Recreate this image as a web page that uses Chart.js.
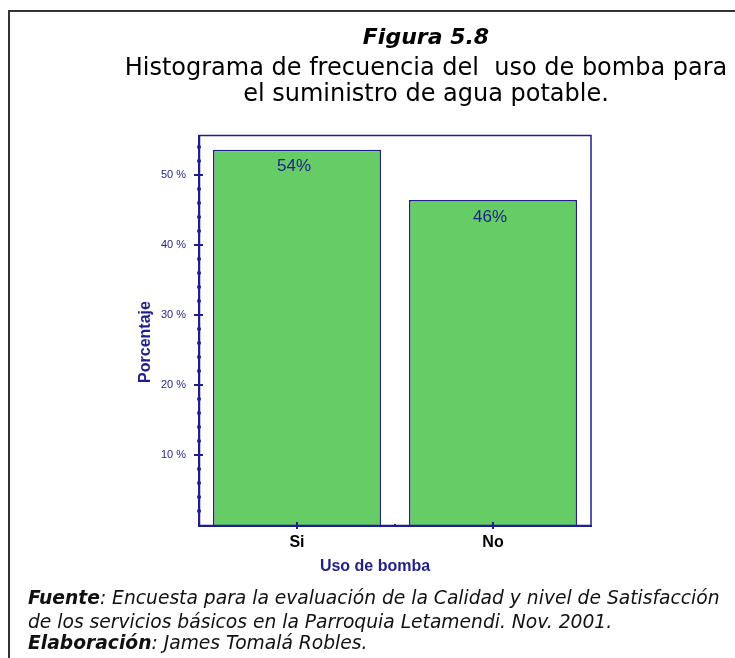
<!DOCTYPE html>
<html>
<head>
<meta charset="utf-8">
<script src="https://cdn.jsdelivr.net/npm/chart.js@4.4.1/dist/chart.umd.min.js"></script>
<style>
  html, body { margin: 0; padding: 0; background: #fff; }
  body { width: 735px; height: 658px; position: relative; overflow: hidden; }
  #frame { position: absolute; left: 8px; top: 10px; width: 800px; height: 700px; border-top: 2px solid #333; border-left: 2px solid #333; }
  #chartWrap { position: absolute; left: 0; top: 0; width: 735px; height: 658px; }
  .t { position: absolute; white-space: pre; font-family: "DejaVu Sans", Verdana, sans-serif; color: #000; line-height: 1; text-align: center; width: 700px; left: 76px; }
  .f { position: absolute; white-space: pre; font-family: "DejaVu Sans", Verdana, sans-serif; font-style: italic; color: #111; font-size: 18.7px; line-height: 1; left: 28px; }
</style>
</head>
<body>
<div id="frame"></div>
<div id="chartWrap"><canvas id="c" width="735" height="658"></canvas></div>
<div class="t" style="top:26px; font-size:22px; font-weight:bold; font-style:italic;">Figura 5.8</div>
<div class="t" style="top:54.5px; font-size:24px;">Histograma de frecuencia del  uso de bomba para</div>
<div class="t" style="top:81px; font-size:24px;">el suministro de agua potable.</div>
<div class="f" style="top:589px;"><b>Fuente</b>: Encuesta para la evaluación de la Calidad y nivel de Satisfacción</div>
<div class="f" style="top:612.5px;">de los servicios básicos en la Parroquia Letamendi. Nov. 2001.</div>
<div class="f" style="top:634px;"><b>Elaboración</b>: James Tomalá Robles.</div>
<script>
const categories = ['Si', 'No'];
const percentages = [53.6, 46.4];
const valueLabels = ['54%', '46%'];
const yTickValues = [10, 20, 30, 40, 50];
const yMinorValues = [2, 4, 6, 8, 12, 14, 16, 18, 22, 24, 26, 28, 32, 34, 36, 38, 42, 44, 46, 48, 52, 54];
const yAxisTitle = 'Porcentaje';
const xAxisTitle = 'Uso de bomba';

const NAVY = '#1e1e8c';
const SANS = '"Liberation Sans", Arial, sans-serif';

const decor = {
  id: 'decor',
  afterDatasetsDraw(chart) {
    const ctx = chart.ctx;
    const a = chart.chartArea;
    const y = chart.scales.y, x = chart.scales.x;
    ctx.save();
    // frame
    ctx.strokeStyle = NAVY;
    ctx.lineWidth = 1.5;
    ctx.strokeRect(a.left + 0.5, a.top + 0.5, a.right - a.left - 0.5, a.bottom - a.top);
    ctx.lineWidth = 2;
    ctx.beginPath();
    ctx.moveTo(a.left, a.top); ctx.lineTo(a.left, a.bottom + 1);
    ctx.lineTo(a.right + 1, a.bottom + 1);
    ctx.stroke();
    // y major ticks
    ctx.fillStyle = NAVY;
    yTickValues.forEach(v => {
      const py = Math.round(y.getPixelForValue(v));
      ctx.fillRect(a.left - 5, py - 1, 9, 2);
    });
    yMinorValues.forEach(v => {
      const py = Math.round(y.getPixelForValue(v));
      ctx.beginPath();
      ctx.arc(a.left, py, 2, 0, Math.PI * 2);
      ctx.fill();
    });
    // x ticks
    categories.forEach((c, i) => {
      const px = Math.round(x.getPixelForValue(i));
      ctx.fillRect(px - 1, a.bottom - 3, 2, 7);
    });
    const mid = Math.round((x.getPixelForValue(0) + x.getPixelForValue(1)) / 2);
    ctx.fillRect(mid - 1, a.bottom - 1, 2, 2);
    // value labels
    const meta = chart.getDatasetMeta(0);
    ctx.font = '17px ' + SANS;
    ctx.textAlign = 'center';
    ctx.textBaseline = 'middle';
    meta.data.forEach((bar, i) => {
      ctx.fillText(valueLabels[i], bar.x - 3, bar.y + 17);
    });
    // axis titles
    ctx.font = 'bold 16px ' + SANS;
    ctx.fillText(xAxisTitle, 375, 567);
    ctx.save();
    ctx.translate(146, 342);
    ctx.rotate(-Math.PI / 2);
    ctx.fillText(yAxisTitle, 0, 0);
    ctx.restore();
    ctx.restore();
  }
};

new Chart(document.getElementById('c'), {
  type: 'bar',
  data: {
    labels: categories,
    datasets: [{
      data: percentages,
      backgroundColor: '#66cc66',
      borderColor: NAVY,
      borderWidth: 1.5,
      categoryPercentage: 1,
      barPercentage: 0.857
    }]
  },
  options: {
    responsive: false,
    animation: false,
    devicePixelRatio: 1,
    layout: { padding: { left: 0, top: 135, right: 144, bottom: 0 } },
    plugins: { legend: { display: false }, tooltip: { enabled: false }, title: { display: false } },
    scales: {
      x: {
        type: 'category',
        offset: true,
        grid: { display: false, drawTicks: false },
        border: { display: false },
        ticks: { color: '#000', font: { family: SANS, size: 16, weight: 'bold' }, padding: 8 },
        afterFit(s) { s.height = 133; }
      },
      y: {
        min: 0,
        max: 55.7,
        grid: { display: false, drawTicks: false },
        border: { display: false },
        ticks: {
          stepSize: 10,
          autoSkip: false,
          color: NAVY,
          padding: 13,
          font: { family: SANS, size: 11 },
          callback: v => (v > 0 && v % 10 === 0) ? v + ' %' : ''
        },
        afterFit(s) { s.width = 199; }
      }
    }
  },
  plugins: [decor]
});
</script>
</body>
</html>
